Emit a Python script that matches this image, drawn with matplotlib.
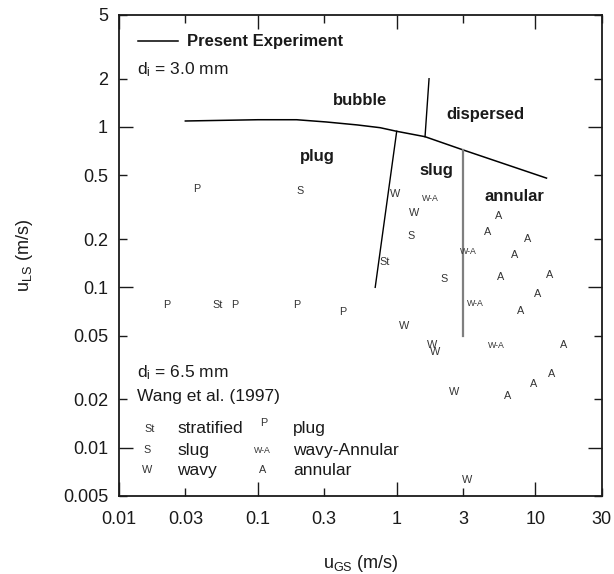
import matplotlib
matplotlib.use("Agg")
import matplotlib.pyplot as plt
from matplotlib.ticker import FixedLocator, FixedFormatter

plt.rcParams['font.family'] = ['Liberation Sans', 'DejaVu Sans']
plt.rcParams['mathtext.fontset'] = 'custom'
plt.rcParams['mathtext.rm'] = 'Liberation Sans'
plt.rcParams['mathtext.it'] = 'Liberation Sans'
plt.rcParams['mathtext.default'] = 'regular'

# ---- data ----
# Present experiment boundaries (d_i = 3.0 mm)
upper_x = [0.03, 0.1, 0.19, 0.31, 0.52, 0.76, 1.0, 1.6, 3.0, 12.0]
upper_y = [1.09, 1.11, 1.11, 1.075, 1.03, 0.99, 0.94, 0.87, 0.72, 0.48]
plug_slug_x = [1.0, 0.70]
plug_slug_y = [0.94, 0.10]
bubble_disp_x = [1.71, 1.60]
bubble_disp_y = [2.0, 0.87]
slug_annular_x = [3.0, 3.0]
slug_annular_y = [0.72, 0.05]

# Wang et al. (1997) data, d_i = 6.5 mm
wang_labels = ['P', 'S', 'W', 'W-A', 'W', 'A', 'S', 'A', 'A', 'W-A', 'A', 'St',
               'S', 'A', 'A', 'A', 'P', 'St', 'P', 'P', 'P', 'W-A', 'A', 'W',
               'W', 'W', 'W-A', 'A', 'A', 'A', 'W', 'A', 'W']
wang_ugs = [0.036, 0.20, 0.97, 1.74, 1.33, 5.4, 1.28, 4.5, 8.8, 3.3, 7.1, 0.82,
            2.2, 5.6, 12.7, 10.3, 0.022, 0.051, 0.068, 0.19, 0.41, 3.7, 7.8, 1.13,
            1.8, 1.9, 5.2, 16.0, 13.0, 9.7, 2.6, 6.3, 3.2]
wang_uls = [0.41, 0.40, 0.38, 0.36, 0.29, 0.28, 0.21, 0.22, 0.20, 0.168, 0.16, 0.144,
            0.112, 0.116, 0.12, 0.091, 0.078, 0.078, 0.078, 0.078, 0.070, 0.079, 0.071, 0.057,
            0.0435, 0.0395, 0.0435, 0.044, 0.0286, 0.025, 0.0222, 0.021, 0.0063]

regions = ['bubble', 'dispersed', 'plug', 'slug', 'annular']
region_x = [0.545, 4.37, 0.267, 1.94, 7.02]
region_y = [1.47, 1.20, 0.65, 0.532, 0.371]

x_major = [0.01, 0.1, 1, 10]
x_minor = [0.03, 0.3, 3, 30]
y_major = [0.01, 0.1, 1]
y_minor = [0.005, 0.02, 0.05, 0.2, 0.5, 2, 5]

# ---- figure ----
fig = plt.figure(figsize=(6.14, 5.74), dpi=100)
ax = fig.add_axes([0.194, 0.136, 0.786, 0.838])
ax.set_xscale('log')
ax.set_yscale('log')
ax.set_xlim(0.01, 30)
ax.set_ylim(0.005, 5)

txtc = '#1a1a1a'
ax.plot(upper_x, upper_y, color='black', lw=1.1, solid_joinstyle='round')
ax.plot(plug_slug_x, plug_slug_y, color='black', lw=1.0)
ax.plot(bubble_disp_x, bubble_disp_y, color='black', lw=1.0)
ax.plot(slug_annular_x, slug_annular_y, color='#7f7f7f', lw=1.6)

for lab, xv, yv in zip(wang_labels, wang_ugs, wang_uls):
    fs = 6.3 if lab == 'W-A' else 7.8
    ax.text(xv, yv, lab, fontsize=fs, ha='center', va='center', color='#333333')

for lab, xv, yv in zip(regions, region_x, region_y):
    ax.text(xv, yv, lab, fontsize=12, fontweight='bold', ha='center', va='center', color=txtc)

# legend / annotations (axes fraction)
ax.plot([0.04, 0.123], [0.945, 0.945], transform=ax.transAxes, color='black', lw=1.1)
ax.text(0.14, 0.945, 'Present Experiment', transform=ax.transAxes, fontsize=12,
        fontweight='bold', va='center', ha='left', color=txtc)
ax.text(0.038, 0.886, 'd$_{i}$ = 3.0 mm', transform=ax.transAxes, fontsize=12.5,
        va='center', ha='left', color=txtc)
ax.text(0.038, 0.256, 'd$_{i}$ = 6.5 mm', transform=ax.transAxes, fontsize=12.5,
        va='center', ha='left', color=txtc)
ax.text(0.038, 0.207, 'Wang et al. (1997)', transform=ax.transAxes, fontsize=12.5,
        va='center', ha='left', color=txtc)

leg_sym = ['St', 'S', 'W', 'P', 'W-A', 'A']
leg_txt = ['stratified', 'slug', 'wavy', 'plug', 'wavy-Annular', 'annular']
leg_sx = [0.063, 0.058, 0.058, 0.299, 0.297, 0.297]
leg_tx = [0.12, 0.12, 0.12, 0.361, 0.361, 0.361]
leg_y = [0.140, 0.095, 0.053, 0.140, 0.095, 0.053]
leg_sy_off = [0.0, 0.0, 0.0, 0.012, 0.0, 0.0]
for s, t, sx, tx, yy, off in zip(leg_sym, leg_txt, leg_sx, leg_tx, leg_y, leg_sy_off):
    ax.text(sx, yy + off, s, transform=ax.transAxes, fontsize=6.3 if s == 'W-A' else 7.8,
            ha='center', va='center', color='#333333')
    ax.text(tx, yy, t, transform=ax.transAxes, fontsize=12.5, ha='left', va='center', color=txtc)

# ticks
ax.xaxis.set_major_locator(FixedLocator(x_major))
ax.xaxis.set_minor_locator(FixedLocator(x_minor))
ax.xaxis.set_major_formatter(FixedFormatter([('%g' % v) for v in x_major]))
ax.xaxis.set_minor_formatter(FixedFormatter([('%g' % v) for v in x_minor]))
ax.yaxis.set_major_locator(FixedLocator(y_major))
ax.yaxis.set_minor_locator(FixedLocator(y_minor))
ax.yaxis.set_major_formatter(FixedFormatter([('%g' % v) for v in y_major]))
ax.yaxis.set_minor_formatter(FixedFormatter([('%g' % v) for v in y_minor]))

ax.tick_params(which='both', direction='in', top=True, right=True, labelsize=13,
               colors='#1a1a1a', width=1.0)
ax.tick_params(which='major', length=10)
ax.tick_params(which='minor', length=6)
ax.tick_params(axis='x', which='both', pad=11)
ax.tick_params(axis='y', which='both', pad=8)
for sp in ax.spines.values():
    sp.set_linewidth(1.3)
    sp.set_color('#1a1a1a')

ax.set_xlabel('u$_{GS}$ (m/s)', fontsize=13, color=txtc, labelpad=18)
ax.set_ylabel('u$_{LS}$ (m/s)', fontsize=13, color=txtc, labelpad=20)

fig.savefig('out.png', dpi=100)
